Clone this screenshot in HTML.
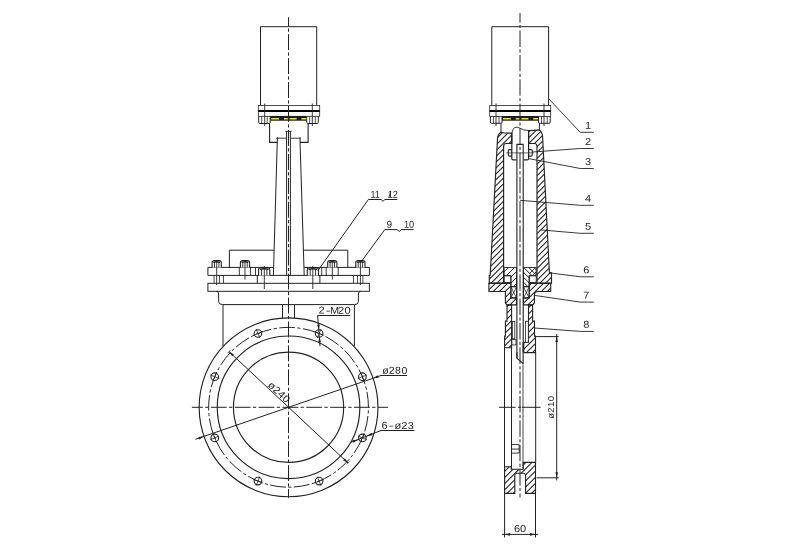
<!DOCTYPE html>
<html><head><meta charset="utf-8"><title>Knife gate valve drawing</title>
<style>html,body{margin:0;padding:0;background:#fff}svg{display:block}</style></head>
<body><svg style="will-change:transform" width="800" height="554" viewBox="0 0 800 554">
<rect x="0" y="0" width="800" height="554" fill="#fff"/>
<path d="M260.5,105.5V26.7H316.7V105.5" stroke="#222" stroke-width="1.0" fill="none"/>
<rect x="258.3" y="105.5" width="61.4" height="10.8" stroke="#222" stroke-width="0.8" fill="none"/>
<line x1="258.3" y1="111" x2="319.7" y2="111" stroke="#000" stroke-width="1.9"/>
<line x1="264.7" y1="103.5" x2="264.7" y2="126" stroke="#222" stroke-width="0.9"/>
<line x1="312.3" y1="103.5" x2="312.3" y2="126" stroke="#222" stroke-width="0.9"/>
<path d="M258.7,116.3V122.4Q258.7,123.5 259.8,123.5H269.09999999999997Q270.2,123.5 270.2,122.4V116.3" stroke="#222" stroke-width="1.0" fill="none"/>
<line x1="261.7" y1="116.3" x2="261.7" y2="123.5" stroke="#222" stroke-width="0.8"/>
<line x1="267.2" y1="116.3" x2="267.2" y2="123.5" stroke="#222" stroke-width="0.8"/>
<path d="M306.7,116.3V122.4Q306.7,123.5 307.8,123.5H317.2Q318.3,123.5 318.3,122.4V116.3" stroke="#222" stroke-width="1.0" fill="none"/>
<line x1="309.7" y1="116.3" x2="309.7" y2="123.5" stroke="#222" stroke-width="0.8"/>
<line x1="315.3" y1="116.3" x2="315.3" y2="123.5" stroke="#222" stroke-width="0.8"/>
<rect x="270.3" y="116.1" width="36.3" height="4.6" stroke="#222" stroke-width="0" fill="#1a1a1a"/>
<line x1="271.2" y1="118.8" x2="306.4" y2="118.8" stroke="#f2ee00" stroke-width="1.6" stroke-dasharray="7.8 4.9 3.9 1.8 7 4.8 4.8 0"/>
<path d="M269.6,123.5V142.4H277.3" stroke="#222" stroke-width="1.1" fill="none"/>
<path d="M308.1,123.5V142.4H300" stroke="#222" stroke-width="1.1" fill="none"/>
<path d="M276.2,138.2H286.2M290.9,138.2H300.8" stroke="#222" stroke-width="0.9" fill="none"/>
<line x1="277.4" y1="137.2" x2="273.4" y2="275.4" stroke="#222" stroke-width="1.0"/>
<line x1="299.9" y1="137.2" x2="304.2" y2="275.4" stroke="#222" stroke-width="1.0"/>
<line x1="286.6" y1="131.3" x2="286.6" y2="275.4" stroke="#222" stroke-width="1.0"/>
<line x1="290.4" y1="131.3" x2="290.4" y2="275.4" stroke="#222" stroke-width="1.0"/>
<line x1="285.3" y1="131.3" x2="291.6" y2="131.3" stroke="#222" stroke-width="0.9"/>
<path d="M229.4,267.4V250.2H274" stroke="#222" stroke-width="1.0" fill="none"/>
<path d="M303.6,250.2H347.8V267.4" stroke="#222" stroke-width="1.0" fill="none"/>
<path d="M273.5,267.4H207.9V275.4H369.4V267.4H304" stroke="#222" stroke-width="1.0" fill="none"/>
<rect x="207.9" y="283.3" width="161.5" height="8.0" stroke="#222" stroke-width="1.0" fill="none"/>
<path d="M257.3,275.4V283.3M319.9,275.4V283.3" stroke="#222" stroke-width="1.0" fill="none"/>
<line x1="239.3" y1="267.4" x2="239.3" y2="275.4" stroke="#222" stroke-width="0.9"/>
<line x1="250.6" y1="267.4" x2="250.6" y2="275.4" stroke="#222" stroke-width="0.9"/>
<line x1="255.5" y1="267.4" x2="255.5" y2="275.4" stroke="#222" stroke-width="0.9"/>
<line x1="321.7" y1="267.4" x2="321.7" y2="275.4" stroke="#222" stroke-width="0.9"/>
<line x1="326.2" y1="267.4" x2="326.2" y2="275.4" stroke="#222" stroke-width="0.9"/>
<line x1="338.2" y1="267.4" x2="338.2" y2="275.4" stroke="#222" stroke-width="0.9"/>
<path d="M212.1,267.4V262.7Q212.1,260.5 214.29999999999998,260.5H219.1Q221.29999999999998,260.5 221.29999999999998,262.7V267.4" stroke="#222" stroke-width="1.1" fill="#fff"/>
<path d="M213.29999999999998,262.2Q216.7,261.2 220.1,262.2" stroke="#222" stroke-width="1.5" fill="none"/>
<line x1="214.49" y1="262.0" x2="214.49" y2="267.4" stroke="#222" stroke-width="0.9"/>
<line x1="218.91" y1="262.0" x2="218.91" y2="267.4" stroke="#222" stroke-width="0.9"/>
<path d="M240.4,267.4V262.7Q240.4,260.5 242.6,260.5H247.4Q249.6,260.5 249.6,262.7V267.4" stroke="#222" stroke-width="1.1" fill="#fff"/>
<path d="M241.6,262.2Q245,261.2 248.4,262.2" stroke="#222" stroke-width="1.5" fill="none"/>
<line x1="242.79" y1="262.0" x2="242.79" y2="267.4" stroke="#222" stroke-width="0.9"/>
<line x1="247.21" y1="262.0" x2="247.21" y2="267.4" stroke="#222" stroke-width="0.9"/>
<path d="M327.7,267.4V262.7Q327.7,260.5 329.9,260.5H334.70000000000005Q336.90000000000003,260.5 336.90000000000003,262.7V267.4" stroke="#222" stroke-width="1.1" fill="#fff"/>
<path d="M328.9,262.2Q332.3,261.2 335.70000000000005,262.2" stroke="#222" stroke-width="1.5" fill="none"/>
<line x1="330.09" y1="262.0" x2="330.09" y2="267.4" stroke="#222" stroke-width="0.9"/>
<line x1="334.51" y1="262.0" x2="334.51" y2="267.4" stroke="#222" stroke-width="0.9"/>
<path d="M355.79999999999995,267.4V262.7Q355.79999999999995,260.5 357.99999999999994,260.5H362.8Q365.0,260.5 365.0,262.7V267.4" stroke="#222" stroke-width="1.1" fill="#fff"/>
<path d="M356.99999999999994,262.2Q360.4,261.2 363.8,262.2" stroke="#222" stroke-width="1.5" fill="none"/>
<line x1="358.19" y1="262.0" x2="358.19" y2="267.4" stroke="#222" stroke-width="0.9"/>
<line x1="362.61" y1="262.0" x2="362.61" y2="267.4" stroke="#222" stroke-width="0.9"/>
<path d="M258.59999999999997,275.4V269.7Q258.59999999999997,267.5 260.79999999999995,267.5H267.6Q269.8,267.5 269.8,269.7V275.4" stroke="#222" stroke-width="1.1" fill="#fff"/>
<path d="M259.79999999999995,269.2Q264.2,268.2 268.6,269.2" stroke="#222" stroke-width="1.5" fill="none"/>
<line x1="261.51" y1="269.0" x2="261.51" y2="275.4" stroke="#222" stroke-width="0.9"/>
<line x1="266.89" y1="269.0" x2="266.89" y2="275.4" stroke="#222" stroke-width="0.9"/>
<path d="M307.29999999999995,275.4V269.7Q307.29999999999995,267.5 309.49999999999994,267.5H316.3Q318.5,267.5 318.5,269.7V275.4" stroke="#222" stroke-width="1.1" fill="#fff"/>
<path d="M308.49999999999994,269.2Q312.9,268.2 317.3,269.2" stroke="#222" stroke-width="1.5" fill="none"/>
<line x1="310.21" y1="269.0" x2="310.21" y2="275.4" stroke="#222" stroke-width="0.9"/>
<line x1="315.59" y1="269.0" x2="315.59" y2="275.4" stroke="#222" stroke-width="0.9"/>
<line x1="216.7" y1="260" x2="216.7" y2="285" stroke="#222" stroke-width="0.9"/>
<line x1="360.4" y1="260" x2="360.4" y2="285" stroke="#222" stroke-width="0.9"/>
<line x1="245" y1="260" x2="245" y2="279.6" stroke="#222" stroke-width="0.9"/>
<line x1="332.3" y1="260" x2="332.3" y2="279.6" stroke="#222" stroke-width="0.9"/>
<line x1="264.3" y1="266" x2="264.3" y2="289" stroke="#222" stroke-width="0.9"/>
<line x1="312.8" y1="266" x2="312.8" y2="289" stroke="#222" stroke-width="0.9"/>
<line x1="214.1" y1="275.4" x2="214.1" y2="283.3" stroke="#222" stroke-width="0.8"/>
<line x1="219.5" y1="275.4" x2="219.5" y2="283.3" stroke="#222" stroke-width="0.8"/>
<line x1="223.5" y1="275.4" x2="223.5" y2="283.3" stroke="#222" stroke-width="0.8"/>
<line x1="362.9" y1="275.4" x2="362.9" y2="283.3" stroke="#222" stroke-width="0.8"/>
<line x1="357.5" y1="275.4" x2="357.5" y2="283.3" stroke="#222" stroke-width="0.8"/>
<line x1="353.5" y1="275.4" x2="353.5" y2="283.3" stroke="#222" stroke-width="0.8"/>
<path d="M216.3,291.3Q218.6,291.6 218.6,294V301.5Q218.6,304.6 222.5,304.6H354.5Q358.4,304.6 358.4,301.5V294Q358.4,291.6 360.7,291.3" stroke="#222" stroke-width="1.0" fill="none"/>
<line x1="223" y1="304.6" x2="223" y2="346" stroke="#222" stroke-width="1.0"/>
<line x1="354.4" y1="304.6" x2="354.4" y2="346" stroke="#222" stroke-width="1.0"/>
<line x1="282.5" y1="304.6" x2="282.5" y2="318" stroke="#222" stroke-width="1.0"/>
<line x1="294.5" y1="304.6" x2="294.5" y2="318" stroke="#222" stroke-width="1.0"/>
<circle cx="288.55" cy="407.3" r="89.4" stroke="#222" stroke-width="1.15" fill="none"/>
<circle cx="288.55" cy="407.3" r="71.3" stroke="#222" stroke-width="1.15" fill="none"/>
<circle cx="288.55" cy="407.3" r="55.1" stroke="#222" stroke-width="1.15" fill="none"/>
<circle cx="288.55" cy="407.3" r="79.9" stroke="#222" stroke-width="1.0" fill="none" stroke-dasharray="15.8 2.4 3.2 2.45" stroke-dashoffset="15.1"/>
<circle cx="362.37" cy="437.88" r="3.8" stroke="#222" stroke-width="1.1" fill="none"/>
<line x1="357.84" y1="436.0" x2="366.89" y2="439.75" stroke="#222" stroke-width="0.8"/>
<line x1="364.24" y1="433.35" x2="360.49" y2="442.4" stroke="#222" stroke-width="0.8"/>
<circle cx="319.13" cy="481.12" r="3.8" stroke="#222" stroke-width="1.1" fill="none"/>
<line x1="317.25" y1="476.59" x2="321.0" y2="485.64" stroke="#222" stroke-width="0.8"/>
<line x1="323.65" y1="479.24" x2="314.6" y2="482.99" stroke="#222" stroke-width="0.8"/>
<circle cx="257.97" cy="481.12" r="3.8" stroke="#222" stroke-width="1.1" fill="none"/>
<line x1="259.85" y1="476.59" x2="256.1" y2="485.64" stroke="#222" stroke-width="0.8"/>
<line x1="262.5" y1="482.99" x2="253.45" y2="479.24" stroke="#222" stroke-width="0.8"/>
<circle cx="214.73" cy="437.88" r="3.8" stroke="#222" stroke-width="1.1" fill="none"/>
<line x1="219.26" y1="436.0" x2="210.21" y2="439.75" stroke="#222" stroke-width="0.8"/>
<line x1="216.61" y1="442.4" x2="212.86" y2="433.35" stroke="#222" stroke-width="0.8"/>
<circle cx="214.73" cy="376.72" r="3.8" stroke="#222" stroke-width="1.1" fill="none"/>
<line x1="219.26" y1="378.6" x2="210.21" y2="374.85" stroke="#222" stroke-width="0.8"/>
<line x1="212.86" y1="381.25" x2="216.61" y2="372.2" stroke="#222" stroke-width="0.8"/>
<circle cx="257.97" cy="333.48" r="3.8" stroke="#222" stroke-width="1.1" fill="none"/>
<line x1="259.85" y1="338.01" x2="256.1" y2="328.96" stroke="#222" stroke-width="0.8"/>
<line x1="253.45" y1="335.36" x2="262.5" y2="331.61" stroke="#222" stroke-width="0.8"/>
<circle cx="319.13" cy="333.48" r="3.8" stroke="#222" stroke-width="1.1" fill="none"/>
<line x1="317.25" y1="338.01" x2="321.0" y2="328.96" stroke="#222" stroke-width="0.8"/>
<line x1="314.6" y1="331.61" x2="323.65" y2="335.36" stroke="#222" stroke-width="0.8"/>
<circle cx="362.37" cy="376.72" r="3.8" stroke="#222" stroke-width="1.1" fill="none"/>
<line x1="357.84" y1="378.6" x2="366.89" y2="374.85" stroke="#222" stroke-width="0.8"/>
<line x1="360.49" y1="372.2" x2="364.24" y2="381.25" stroke="#222" stroke-width="0.8"/>
<line x1="288.5" y1="17.2" x2="288.5" y2="497.8" stroke="#222" stroke-width="1.0" stroke-dasharray="15.9 2.4 3.2 2.44" stroke-dashoffset="6.94"/>
<line x1="191.9" y1="407.3" x2="388.1" y2="407.3" stroke="#222" stroke-width="1.0" stroke-dasharray="15.8 2.4 3.2 2.45" stroke-dashoffset="4.85"/>
<line x1="229.04" y1="351.61" x2="348.06" y2="462.99" stroke="#222" stroke-width="1.0"/>
<polygon points="229.04,351.61 232.14,356.36 233.98,354.39" fill="#222"/>
<polygon points="348.06,462.99 344.96,458.24 343.12,460.21" fill="#222"/>
<line x1="227.68" y1="353.07" x2="230.41" y2="350.15" stroke="#222" stroke-width="0.7"/>
<line x1="346.69" y1="464.45" x2="349.42" y2="461.53" stroke="#222" stroke-width="0.7"/>
<text transform="translate(267.4,385.9) rotate(43.1) scale(0.275,0.25)" font-family="&quot;Liberation Sans&quot;, sans-serif" font-size="40" text-anchor="middle" fill="#222"><tspan x="11.7">ø</tspan><tspan x="35.2">2</tspan><tspan x="58.6">4</tspan><tspan x="82.1">0</tspan></text>
<line x1="195.4" y1="439.3" x2="381" y2="375.5" stroke="#222" stroke-width="1.0"/>
<line x1="380.5" y1="375.5" x2="407" y2="375.5" stroke="#222" stroke-width="1.0"/>
<polygon points="373.08,378.19 378.72,377.68 377.84,375.13" fill="#222"/>
<polygon points="204.02,436.41 198.38,436.92 199.26,439.47" fill="#222"/>
<text transform="translate(382.3,373.8) rotate(0.25) scale(0.2625,0.25)" font-family="&quot;Liberation Sans&quot;, sans-serif" font-size="40" text-anchor="middle" fill="#222"><tspan x="12.0">ø</tspan><tspan x="36.0">2</tspan><tspan x="60.0">8</tspan><tspan x="84.0">0</tspan></text>
<line x1="350.5" y1="442.5" x2="381" y2="430.5" stroke="#222" stroke-width="1.0"/>
<line x1="380.5" y1="430.5" x2="414.3" y2="430.5" stroke="#222" stroke-width="1.0"/>
<polygon points="366.50,436.20 372.58,435.26 371.59,432.74" fill="#222"/>
<polygon points="358.50,439.40 352.42,440.34 353.41,442.86" fill="#222"/>
<text transform="translate(381.4,428.8) rotate(0.25) scale(0.275,0.25)" font-family="&quot;Liberation Sans&quot;, sans-serif" font-size="40" text-anchor="middle" fill="#222"><tspan x="11.9">6</tspan><tspan x="27.1" text-anchor="start" textLength="17.3" lengthAdjust="spacingAndGlyphs">-</tspan><tspan x="59.5">ø</tspan><tspan x="83.4">2</tspan><tspan x="107.2">3</tspan></text>
<text transform="translate(318.2,313.6) rotate(0.25) scale(0.275,0.25)" font-family="&quot;Liberation Sans&quot;, sans-serif" font-size="40" text-anchor="middle" fill="#222"><tspan x="11.9">2</tspan><tspan x="27.1" text-anchor="start" textLength="17.3" lengthAdjust="spacingAndGlyphs">-</tspan><tspan x="59.5">M</tspan><tspan x="83.4">2</tspan><tspan x="107.2">0</tspan></text>
<line x1="317.6" y1="315.5" x2="350.2" y2="315.5" stroke="#222" stroke-width="1.0"/>
<line x1="317.6" y1="315.5" x2="320" y2="346.2" stroke="#222" stroke-width="1.0"/>
<polygon points="318.90,330.20 319.76,324.52 317.16,324.72" fill="#222"/>
<polygon points="319.30,336.60 318.44,342.28 321.04,342.08" fill="#222"/>
<path d="M318,270.5L368.4,199.5H381.3L383,201.4L384.8,199.5H397.3" stroke="#222" stroke-width="1.0" fill="none"/>
<text transform="translate(370.5,197.7) rotate(0.25) scale(0.225,0.25)" font-family="&quot;Liberation Sans&quot;, sans-serif" font-size="40" text-anchor="start" fill="#222">11</text>
<text transform="translate(387.7,197.7) rotate(0.25) scale(0.23,0.25)" font-family="&quot;Liberation Sans&quot;, sans-serif" font-size="40" text-anchor="start" fill="#222">12</text>
<line x1="388.9" y1="197.3" x2="390.9" y2="190.8" stroke="#222" stroke-width="0.9"/>
<path d="M361,262L384.8,229.6H397.3L399.2,231.6L401.2,229.6H413.7" stroke="#222" stroke-width="1.0" fill="none"/>
<text transform="translate(386.6,227.8) rotate(0.25) scale(0.25,0.25)" font-family="&quot;Liberation Sans&quot;, sans-serif" font-size="40" text-anchor="start" fill="#222">9</text>
<text transform="translate(404,227.8) rotate(0.25) scale(0.23,0.25)" font-family="&quot;Liberation Sans&quot;, sans-serif" font-size="40" text-anchor="start" fill="#222">10</text>
<path d="M491.8,105.5V26.7H548.6V105.5" stroke="#222" stroke-width="1.0" fill="none"/>
<rect x="489.7" y="105.5" width="61.0" height="10.9" stroke="#222" stroke-width="0.8" fill="none"/>
<line x1="489.7" y1="111" x2="550.7" y2="111" stroke="#000" stroke-width="1.9"/>
<line x1="496" y1="103.5" x2="496" y2="126" stroke="#222" stroke-width="0.9"/>
<line x1="544" y1="103.5" x2="544" y2="126" stroke="#222" stroke-width="0.9"/>
<path d="M490.4,116.4V122.2Q490.4,123.3 491.5,123.3H500.9Q502,123.3 502,122.2V116.4" stroke="#222" stroke-width="1.0" fill="none"/>
<line x1="493.4" y1="116.4" x2="493.4" y2="123.3" stroke="#222" stroke-width="0.8"/>
<line x1="499" y1="116.4" x2="499" y2="123.3" stroke="#222" stroke-width="0.8"/>
<path d="M538.5,116.4V122.2Q538.5,123.3 539.6,123.3H549.1Q550.2,123.3 550.2,122.2V116.4" stroke="#222" stroke-width="1.0" fill="none"/>
<line x1="541.5" y1="116.4" x2="541.5" y2="123.3" stroke="#222" stroke-width="0.8"/>
<line x1="547.2" y1="116.4" x2="547.2" y2="123.3" stroke="#222" stroke-width="0.8"/>
<rect x="502" y="116.1" width="36.5" height="4.6" stroke="#222" stroke-width="0" fill="#1a1a1a"/>
<line x1="503" y1="118.8" x2="538" y2="118.8" stroke="#f2ee00" stroke-width="1.6" stroke-dasharray="7.8 4.9 3.9 1.8 7 4.8 4.8 0"/>
<line x1="501" y1="123.2" x2="501" y2="132.4" stroke="#222" stroke-width="1.0"/>
<line x1="539.4" y1="123.2" x2="539.4" y2="130" stroke="#222" stroke-width="1.0"/>
<clipPath id="h1"><path d="M501,132.2Q506,133.6 511.8,133V143.5H506Q503.6,143.5 503.6,146.5V283.2H489.3V275.2H490.2L497.5,138.5Q497.8,134 501,132.2Z"/></clipPath>
<path d="M487.00,136.50L514.00,109.50M487.00,142.30L514.00,115.30M487.00,148.10L514.00,121.10M487.00,153.90L514.00,126.90M487.00,159.70L514.00,132.70M487.00,165.50L514.00,138.50M487.00,171.30L514.00,144.30M487.00,177.10L514.00,150.10M487.00,182.90L514.00,155.90M487.00,188.70L514.00,161.70M487.00,194.50L514.00,167.50M487.00,200.30L514.00,173.30M487.00,206.10L514.00,179.10M487.00,211.90L514.00,184.90M487.00,217.70L514.00,190.70M487.00,223.50L514.00,196.50M487.00,229.30L514.00,202.30M487.00,235.10L514.00,208.10M487.00,240.90L514.00,213.90M487.00,246.70L514.00,219.70M487.00,252.50L514.00,225.50M487.00,258.30L514.00,231.30M487.00,264.10L514.00,237.10M487.00,269.90L514.00,242.90M487.00,275.70L514.00,248.70M487.00,281.50L514.00,254.50M487.00,287.30L514.00,260.30M487.00,293.10L514.00,266.10M487.00,298.90L514.00,271.90M487.00,304.70L514.00,277.70M487.00,310.50L514.00,283.50" stroke="#222" stroke-width="1.05" fill="none" clip-path="url(#h1)"/>
<clipPath id="h2"><path d="M528.6,130.6Q534,130.6 539.4,129.9Q542.2,132 542.6,137L549.4,272.8H551.5V283.2H537V146.5Q537,143.5 534.5,143.5H528.6Z"/></clipPath>
<path d="M526.00,134.60L554.00,106.60M526.00,140.40L554.00,112.40M526.00,146.20L554.00,118.20M526.00,152.00L554.00,124.00M526.00,157.80L554.00,129.80M526.00,163.60L554.00,135.60M526.00,169.40L554.00,141.40M526.00,175.20L554.00,147.20M526.00,181.00L554.00,153.00M526.00,186.80L554.00,158.80M526.00,192.60L554.00,164.60M526.00,198.40L554.00,170.40M526.00,204.20L554.00,176.20M526.00,210.00L554.00,182.00M526.00,215.80L554.00,187.80M526.00,221.60L554.00,193.60M526.00,227.40L554.00,199.40M526.00,233.20L554.00,205.20M526.00,239.00L554.00,211.00M526.00,244.80L554.00,216.80M526.00,250.60L554.00,222.60M526.00,256.40L554.00,228.40M526.00,262.20L554.00,234.20M526.00,268.00L554.00,240.00M526.00,273.80L554.00,245.80M526.00,279.60L554.00,251.60M526.00,285.40L554.00,257.40M526.00,291.20L554.00,263.20M526.00,297.00L554.00,269.00M526.00,302.80L554.00,274.80M526.00,308.60L554.00,280.60" stroke="#222" stroke-width="1.05" fill="none" clip-path="url(#h2)"/>
<path d="M501,132.2Q506,133.6 511.8,133V143.5H506Q503.6,143.5 503.6,146.5V283.2H489.3V275.2H490.2L497.5,138.5Q497.8,134 501,132.2Z" stroke="#222" stroke-width="1.15" fill="none"/>
<path d="M528.6,130.6Q534,130.6 539.4,129.9Q542.2,132 542.6,137L549.4,272.8H551.5V283.2H537V146.5Q537,143.5 534.5,143.5H528.6Z" stroke="#222" stroke-width="1.15" fill="none"/>
<path d="M511.8,133Q513,128.5 514.6,127.6Q517.4,126.4 520,128.2Q523,130.4 528.6,130.5" stroke="#222" stroke-width="0.9" fill="none"/>
<path d="M511.8,133V158.4Q511.8,159.9 513.3,159.9H516.4" stroke="#222" stroke-width="1.2" fill="none"/>
<path d="M528.6,130.5V158.4Q528.6,159.9 527.1,159.9H523.8" stroke="#222" stroke-width="1.2" fill="none"/>
<line x1="506.2" y1="152.9" x2="533.8" y2="152.9" stroke="#222" stroke-width="0.7"/>
<path d="M511.8,149.6H509.4Q508.3,149.6 508.3,150.8V155Q508.3,156.1 509.4,156.1H511.8" stroke="#222" stroke-width="1.1" fill="none"/>
<path d="M528.6,149.6H531Q532.2,149.6 532.2,150.8V155Q532.2,156.1 531,156.1H528.6" stroke="#222" stroke-width="1.1" fill="none"/>
<path d="M516.9,358V144.4H523.2V352" stroke="#222" stroke-width="1.1" fill="none"/>
<clipPath id="h3"><path d="M504.1,267.5H516.5V286.7H510.9V275.7H504.1Z"/></clipPath>
<path d="M503.00,273.00L518.00,258.00M503.00,279.00L518.00,264.00M503.00,285.00L518.00,270.00M503.00,291.00L518.00,276.00M503.00,297.00L518.00,282.00" stroke="#222" stroke-width="1.0" fill="none" clip-path="url(#h3)"/>
<clipPath id="h4"><path d="M536.2,267.5H523.5V286.7H529.2V275.7H536.2Z"/></clipPath>
<path d="M522.00,285.75L538.00,301.75M522.00,280.75L538.00,296.75M522.00,275.75L538.00,291.75M522.00,270.75L538.00,286.75M522.00,265.75L538.00,281.75M522.00,260.75L538.00,276.75M522.00,255.75L538.00,271.75" stroke="#222" stroke-width="1.0" fill="none" clip-path="url(#h4)"/>
<clipPath id="h5"><path d="M529.5,267.5H536.2V275H529.5Z"/></clipPath>
<path d="M528.00,270.00L538.00,260.00M528.00,275.00L538.00,265.00M528.00,280.00L538.00,270.00" stroke="#222" stroke-width="0.9" fill="none" clip-path="url(#h5)"/>
<path d="M504.1,267.5H516.5V286.7H510.9V275.7H504.1Z" stroke="#222" stroke-width="0.9" fill="none"/>
<path d="M536.2,267.5H523.5V286.7H529.2V275.7H536.2Z" stroke="#222" stroke-width="0.9" fill="none"/>
<rect x="504.2" y="275.7" width="6.7" height="6.7" stroke="#222" stroke-width="0.9" fill="none"/>
<rect x="529.2" y="275.7" width="7.0" height="6.7" stroke="#222" stroke-width="0.9" fill="none"/>
<clipPath id="h6"><path d="M488.9,283.3H510.9V297.9H516.5V304.9H507L505.4,303V291.5H488.9Z"/></clipPath>
<path d="M487.00,285.85L518.00,254.85M487.00,291.85L518.00,260.85M487.00,297.85L518.00,266.85M487.00,303.85L518.00,272.85M487.00,309.85L518.00,278.85M487.00,315.85L518.00,284.85M487.00,321.85L518.00,290.85M487.00,327.85L518.00,296.85M487.00,333.85L518.00,302.85" stroke="#222" stroke-width="1.05" fill="none" clip-path="url(#h6)"/>
<clipPath id="h7"><path d="M550.7,283.3H529.2V297.9H523.5V304.9H532.6L534.4,303V295Q534.4,291.5 538,291.5H550.7Z"/></clipPath>
<path d="M522.00,286.85L552.00,256.85M522.00,292.85L552.00,262.85M522.00,298.85L552.00,268.85M522.00,304.85L552.00,274.85M522.00,310.85L552.00,280.85M522.00,316.85L552.00,286.85M522.00,322.85L552.00,292.85M522.00,328.85L552.00,298.85" stroke="#222" stroke-width="1.05" fill="none" clip-path="url(#h7)"/>
<path d="M488.9,283.3H510.9V297.9H516.5V304.9H507L505.4,303V291.5H488.9Z" stroke="#222" stroke-width="1.1" fill="none"/>
<path d="M550.7,283.3H529.2V297.9H523.5V304.9H532.6L534.4,303V295Q534.4,291.5 538,291.5H550.7Z" stroke="#222" stroke-width="1.1" fill="none"/>
<line x1="488.9" y1="283.3" x2="510.9" y2="283.3" stroke="#222" stroke-width="1.2"/>
<line x1="529.2" y1="283.3" x2="550.7" y2="283.3" stroke="#222" stroke-width="1.2"/>
<rect x="510.9" y="286.7" width="5.6" height="11.2" stroke="#222" stroke-width="0.9" fill="none"/>
<line x1="510.9" y1="286.7" x2="516.5" y2="297.9" stroke="#222" stroke-width="0.8"/>
<line x1="510.9" y1="297.9" x2="516.5" y2="286.7" stroke="#222" stroke-width="0.8"/>
<rect x="523.5" y="286.7" width="5.7" height="11.2" stroke="#222" stroke-width="0.9" fill="none"/>
<line x1="523.5" y1="286.7" x2="529.2" y2="297.9" stroke="#222" stroke-width="0.8"/>
<line x1="523.5" y1="297.9" x2="529.2" y2="286.7" stroke="#222" stroke-width="0.8"/>
<clipPath id="h8"><path d="M507,304.9H511.6V347.7H504.6V336.1H505.4V321.1H507Z"/></clipPath>
<path d="M503.00,310.90L513.00,300.90M503.00,317.00L513.00,307.00M503.00,323.10L513.00,313.10M503.00,329.20L513.00,319.20M503.00,335.30L513.00,325.30M503.00,341.40L513.00,331.40M503.00,347.50L513.00,337.50M503.00,353.60L513.00,343.60" stroke="#222" stroke-width="1.05" fill="none" clip-path="url(#h8)"/>
<clipPath id="h9"><path d="M532.6,304.9H528.5V342.3H523.8V352.6H535.5V336.1H534.5V321.1H532.6Z"/></clipPath>
<path d="M522.00,308.20L537.00,293.20M522.00,314.30L537.00,299.30M522.00,320.40L537.00,305.40M522.00,326.50L537.00,311.50M522.00,332.60L537.00,317.60M522.00,338.70L537.00,323.70M522.00,344.80L537.00,329.80M522.00,350.90L537.00,335.90M522.00,357.00L537.00,342.00M522.00,363.10L537.00,348.10" stroke="#222" stroke-width="1.05" fill="none" clip-path="url(#h9)"/>
<path d="M507,304.9H511.6V347.7H504.6V336.1H505.4V321.1H507Z" stroke="#222" stroke-width="1.1" fill="none"/>
<path d="M532.6,304.9H528.5V342.3H523.8V352.6H535.5V336.1H534.5V321.1H532.6Z" stroke="#222" stroke-width="1.1" fill="none"/>
<rect x="512.3" y="321.5" width="2.5" height="17.3" stroke="#222" stroke-width="0.8" fill="none"/>
<rect x="511.9" y="339.6" width="4.1" height="5.3" stroke="#222" stroke-width="0.8" fill="#fff"/>
<rect x="525.4" y="321.3" width="2.9" height="21.0" stroke="#222" stroke-width="0.8" fill="#fff"/>
<line x1="504.5" y1="347.7" x2="504.5" y2="467" stroke="#222" stroke-width="1.0"/>
<line x1="535.7" y1="352.6" x2="535.7" y2="462.5" stroke="#222" stroke-width="1.0"/>
<line x1="511.5" y1="347.7" x2="511.5" y2="469.2" stroke="#222" stroke-width="1.0"/>
<line x1="523.1" y1="342.3" x2="523.1" y2="364" stroke="#222" stroke-width="1.1"/>
<line x1="523.0" y1="364" x2="523.0" y2="469.2" stroke="#222" stroke-width="0.8"/>
<path d="M516.9,352V358.2L523,363.3" stroke="#222" stroke-width="1.1" fill="none"/>
<path d="M511.9,444.6H519.2V453.1H511.9M511.9,449.1H519.2" stroke="#222" stroke-width="0.9" fill="none"/>
<clipPath id="h10"><path d="M504.6,466.7H511.3V469.2H523.2V462.4H535.5V493.4H525.6V475.2Q525.6,473.2 523.6,473.2H516.8Q514.8,473.2 514.8,475.2V493.4H504.6Z"/></clipPath>
<path d="M503.00,467.00L537.00,433.00M503.00,473.10L537.00,439.10M503.00,479.20L537.00,445.20M503.00,485.30L537.00,451.30M503.00,491.40L537.00,457.40M503.00,497.50L537.00,463.50M503.00,503.60L537.00,469.60M503.00,509.70L537.00,475.70M503.00,515.80L537.00,481.80M503.00,521.90L537.00,487.90" stroke="#222" stroke-width="1.05" fill="none" clip-path="url(#h10)"/>
<path d="M504.6,466.7H511.3V469.2H523.2V462.4H535.5V493.4H525.6V475.2Q525.6,473.2 523.6,473.2H516.8Q514.8,473.2 514.8,475.2V493.4H504.6Z" stroke="#222" stroke-width="1.1" fill="none"/>
<line x1="499.1" y1="407.3" x2="540.6" y2="407.3" stroke="#222" stroke-width="1.0" stroke-dasharray="16.5 2.5 2.8 1 100"/>
<line x1="520.0" y1="13" x2="520.0" y2="497.5" stroke="#222" stroke-width="1.0" stroke-dasharray="16.4 2.4 3.2 2.37" stroke-dashoffset="6.8"/>
<line x1="504.6" y1="493.2" x2="504.6" y2="537.5" stroke="#222" stroke-width="1.0"/>
<line x1="535.5" y1="493.2" x2="535.5" y2="537.5" stroke="#222" stroke-width="1.0"/>
<line x1="502" y1="534.4" x2="538.2" y2="534.4" stroke="#222" stroke-width="1.0"/>
<polygon points="504.60,534.40 510.10,535.70 510.10,533.10" fill="#222"/>
<polygon points="535.50,534.40 530.00,533.10 530.00,535.70" fill="#222"/>
<text transform="translate(520,532) rotate(0.25) scale(0.275,0.25)" font-family="&quot;Liberation Sans&quot;, sans-serif" font-size="40" text-anchor="middle" fill="#222">60</text>
<line x1="536" y1="336.6" x2="558.7" y2="336.6" stroke="#222" stroke-width="1.0"/>
<line x1="536.5" y1="477.8" x2="558.7" y2="477.8" stroke="#222" stroke-width="1.0"/>
<line x1="556.7" y1="334" x2="556.7" y2="480.4" stroke="#222" stroke-width="1.0"/>
<polygon points="556.70,336.60 555.40,342.10 558.00,342.10" fill="#222"/>
<polygon points="556.70,477.80 558.00,472.30 555.40,472.30" fill="#222"/>
<text transform="translate(554.3,418.8) rotate(-90) scale(0.2625,0.25)" font-family="&quot;Liberation Sans&quot;, sans-serif" font-size="36.8" text-anchor="middle" fill="#222"><tspan x="11.0">ø</tspan><tspan x="32.9">2</tspan><tspan x="54.8">1</tspan><tspan x="76.7">0</tspan></text>
<path d="M548.4,98.4L580.2,132.3H593.8" stroke="#222" stroke-width="0.9" fill="none"/>
<text transform="translate(585.0,128.70000000000002) rotate(0.25) scale(0.275,0.25)" font-family="&quot;Liberation Sans&quot;, sans-serif" font-size="40" text-anchor="start" fill="#222">1</text>
<path d="M532.6,152L580.2,148.5H593.8" stroke="#222" stroke-width="0.9" fill="none"/>
<text transform="translate(585.0,144.9) rotate(0.25) scale(0.275,0.25)" font-family="&quot;Liberation Sans&quot;, sans-serif" font-size="40" text-anchor="start" fill="#222">2</text>
<path d="M528.6,158.6L580.2,168.5H593.8" stroke="#222" stroke-width="0.9" fill="none"/>
<text transform="translate(585.0,164.9) rotate(0.25) scale(0.275,0.25)" font-family="&quot;Liberation Sans&quot;, sans-serif" font-size="40" text-anchor="start" fill="#222">3</text>
<path d="M520.1,200.3L580.2,205.3H593.8" stroke="#222" stroke-width="0.9" fill="none"/>
<text transform="translate(585.0,201.70000000000002) rotate(0.25) scale(0.275,0.25)" font-family="&quot;Liberation Sans&quot;, sans-serif" font-size="40" text-anchor="start" fill="#222">4</text>
<path d="M541,229.9L580.2,233.3H593.8" stroke="#222" stroke-width="0.9" fill="none"/>
<text transform="translate(585.0,229.70000000000002) rotate(0.25) scale(0.275,0.25)" font-family="&quot;Liberation Sans&quot;, sans-serif" font-size="40" text-anchor="start" fill="#222">5</text>
<path d="M549.2,272.8L580.2,276.8H593.8" stroke="#222" stroke-width="0.9" fill="none"/>
<text transform="translate(583.2,273.2) rotate(0.25) scale(0.275,0.25)" font-family="&quot;Liberation Sans&quot;, sans-serif" font-size="40" text-anchor="start" fill="#222">6</text>
<path d="M534.6,295.4L580.2,302.1H593.8" stroke="#222" stroke-width="0.9" fill="none"/>
<text transform="translate(583.2,298.5) rotate(0.25) scale(0.275,0.25)" font-family="&quot;Liberation Sans&quot;, sans-serif" font-size="40" text-anchor="start" fill="#222">7</text>
<path d="M534.6,328L580.2,331.4H593.8" stroke="#222" stroke-width="0.9" fill="none"/>
<text transform="translate(583.2,327.79999999999995) rotate(0.25) scale(0.275,0.25)" font-family="&quot;Liberation Sans&quot;, sans-serif" font-size="40" text-anchor="start" fill="#222">8</text>
</svg></body></html>
